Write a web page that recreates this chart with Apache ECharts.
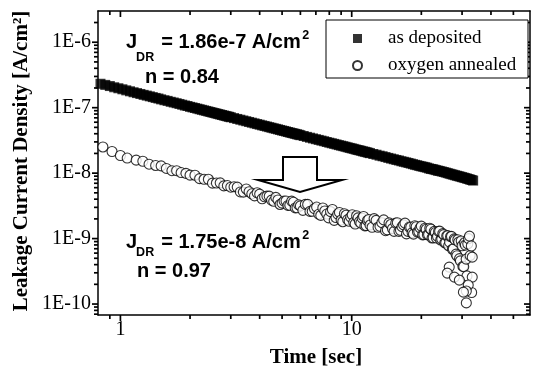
<!DOCTYPE html>
<html>
<head>
<meta charset="utf-8">
<script src="https://cdn.jsdelivr.net/npm/echarts@6/dist/echarts.min.js"></script>
<style>
  html, body { margin: 0; padding: 0; background: #fff; }
  #chart { width: 533px; height: 378px; }
</style>
</head>
<body>
<div id="chart"></div>
<script>
// Leakage current density vs. time, as-deposited and oxygen-annealed films

const timeDeposited = [
  0.82, 0.86, 0.90, 0.94, 0.98, 1.02, 1.06, 1.10, 1.14, 1.18, 1.22, 1.26, 1.30, 1.34, 1.38, 1.42, 1.46, 1.50,
  1.6, 1.7, 1.8, 1.9, 2.0, 2.1, 2.2, 2.3, 2.4, 2.5, 2.6, 2.7, 2.8, 2.9, 3.0,
  3.2, 3.4, 3.6, 3.8, 4.0, 4.2, 4.4, 4.6, 4.8, 5.0, 5.2, 5.4, 5.6, 5.8, 6.0,
  6.4, 6.8, 7.2, 7.6, 8.0, 8.4, 8.8, 9.2, 9.6, 10.0, 10.4, 10.8, 11.2, 11.6, 12.0,
  12.8, 13.6, 14.4, 15.2, 16.0, 16.8, 17.6, 18.4, 19.2, 20.0, 20.8, 21.6, 22.4, 23.2, 24.0,
  25, 26, 27, 28, 29, 30, 31, 32, 33, 33.5,
  1.55, 1.65, 1.75, 1.85, 1.95, 2.05, 2.15, 2.25, 2.35, 2.45, 2.55, 2.65, 2.75, 2.85, 2.95,
  3.1, 3.3, 3.5, 3.7, 3.9, 4.1, 4.3, 4.5, 4.7, 4.9, 5.1, 5.3, 5.5, 5.7, 5.9,
  6.2, 6.6, 7.0, 7.4, 7.8, 8.2, 8.6, 9.0, 9.4, 9.8, 10.2, 10.6, 11.0, 11.4, 11.8,
  12.4, 13.2, 14.0, 14.8, 15.6, 16.4, 17.2, 18.0, 18.8, 19.6, 20.4, 21.2, 22.0, 22.8, 23.6,
  24.5, 25.5, 26.5, 27.5, 28.5, 29.5, 30.5, 31.5, 32.5
];
const jDeposited = [
  2.32e-7, 2.23e-7, 2.14e-7, 2.05e-7, 1.98e-7, 1.91e-7, 1.84e-7, 1.78e-7, 1.72e-7, 1.67e-7, 1.62e-7, 1.57e-7, 1.53e-7, 1.49e-7, 1.45e-7, 1.41e-7, 1.38e-7, 1.34e-7,
  1.27e-7, 1.20e-7, 1.14e-7, 1.08e-7, 1.03e-7, 9.88e-8, 9.47e-8, 9.10e-8, 8.75e-8, 8.43e-8, 8.14e-8, 7.86e-8, 7.60e-8, 7.36e-8, 7.14e-8,
  6.73e-8, 6.37e-8, 6.05e-8, 5.76e-8, 5.50e-8, 5.26e-8, 5.04e-8, 4.84e-8, 4.66e-8, 4.48e-8, 4.33e-8, 4.18e-8, 4.05e-8, 3.92e-8, 3.80e-8,
  3.58e-8, 3.39e-8, 3.22e-8, 3.07e-8, 2.92e-8, 2.80e-8, 2.68e-8, 2.58e-8, 2.48e-8, 2.39e-8, 2.30e-8, 2.23e-8, 2.15e-8, 2.09e-8, 2.02e-8,
  1.91e-8, 1.81e-8, 1.71e-8, 1.63e-8, 1.56e-8, 1.49e-8, 1.43e-8, 1.37e-8, 1.32e-8, 1.27e-8, 1.23e-8, 1.18e-8, 1.15e-8, 1.11e-8, 1.08e-8,
  1.04e-8, 1.00e-8, 9.62e-9, 9.28e-9, 8.98e-9, 8.68e-9, 8.40e-9, 8.12e-9, 7.85e-9, 7.70e-9,
  1.30e-7, 1.23e-7, 1.17e-7, 1.11e-7, 1.06e-7, 1.01e-7, 9.67e-8, 9.28e-8, 8.92e-8, 8.59e-8, 8.28e-8, 7.99e-8, 7.73e-8, 7.48e-8, 7.25e-8,
  6.93e-8, 6.55e-8, 6.21e-8, 5.90e-8, 5.62e-8, 5.37e-8, 5.15e-8, 4.94e-8, 4.75e-8, 4.57e-8, 4.41e-8, 4.25e-8, 4.11e-8, 3.98e-8, 3.86e-8,
  3.69e-8, 3.48e-8, 3.30e-8, 3.14e-8, 2.99e-8, 2.86e-8, 2.74e-8, 2.63e-8, 2.53e-8, 2.43e-8, 2.35e-8, 2.26e-8, 2.19e-8, 2.12e-8, 2.05e-8,
  1.96e-8, 1.85e-8, 1.76e-8, 1.67e-8, 1.59e-8, 1.52e-8, 1.46e-8, 1.40e-8, 1.34e-8, 1.29e-8, 1.25e-8, 1.21e-8, 1.16e-8, 1.13e-8, 1.09e-8,
  1.06e-8, 1.02e-8, 9.80e-9, 9.45e-9, 9.12e-9, 8.83e-9, 8.54e-9, 8.26e-9, 7.98e-9
];

const timeAnnealed = [
  0.84, 0.92, 1.00, 1.07, 1.17, 1.25, 1.33, 1.42, 1.50, 1.58, 1.67, 1.75, 1.83, 1.92, 2.00,
  2.1, 2.2, 2.3, 2.4, 2.5, 2.6, 2.7, 2.8, 2.9, 3.0,
  3.1, 3.2, 3.3, 3.4, 3.5, 3.6, 3.7, 3.8, 3.9, 4.0, 4.1, 4.2, 4.3, 4.4, 4.5, 4.6, 4.7, 4.8, 4.9, 5.0,
  5.1, 5.2, 5.3, 5.4, 5.5, 5.6, 5.7, 5.8, 5.9, 6.0,
  6.15, 6.3, 6.45, 6.6, 6.75, 6.9, 7.05, 7.2, 7.35, 7.5, 7.65, 7.8, 7.95, 8.1, 8.25, 8.4, 8.55, 8.7, 8.85, 9.0,
  9.15, 9.3, 9.45, 9.6, 9.75, 9.9, 10.05, 10.2, 10.35, 10.5, 10.65, 10.8, 10.95, 11.1, 11.25, 11.4, 11.55, 11.7, 11.85, 12.0,
  12.25, 12.5, 12.75, 13.0, 13.25, 13.5, 13.75, 14.0, 14.25, 14.5, 14.75, 15.0, 15.25, 15.5, 15.75, 16.0,
  16.25, 16.5, 16.75, 17.0, 17.25, 17.5, 17.75, 18.0, 18.25, 18.5, 18.75, 19.0, 19.25, 19.5, 19.75, 20.0,
  20.25, 20.5, 20.75, 21.0, 21.25, 21.5, 21.75, 22.0, 22.25, 22.5, 22.75, 23.0, 23.25, 23.5, 23.75, 24.0,
  24.25, 24.5, 24.75, 25.0, 25.25, 25.5, 25.75, 26.0, 26.25, 26.5, 26.75, 27.0, 27.25, 27.5, 27.75, 28.0,
  28.25, 28.5, 28.75, 29.0, 29.25, 29.5, 29.75, 30.0, 30.25, 30.5, 30.75, 31.0, 31.25, 31.5, 31.75, 32.0,
  32.5, 33.0,
  32.3, 32.9, 33.2, 33.2, 31.9, 31.3, 31.3, 30.4, 26.4, 25.9, 27.8, 29.2
];
const jAnnealed = [
  2.51e-8, 2.14e-8, 1.86e-8, 1.70e-8, 1.58e-8, 1.52e-8, 1.37e-8, 1.31e-8, 1.29e-8, 1.18e-8, 1.09e-8, 1.09e-8, 1.02e-8, 9.93e-9, 9.33e-9,
  9.29e-9, 8.24e-9, 8.05e-9, 8.05e-9, 7.03e-9, 7.06e-9, 7.11e-9, 6.38e-9, 6.46e-9, 6.10e-9,
  6.18e-9, 6.12e-9, 5.16e-9, 5.13e-9, 5.73e-9, 5.20e-9, 4.83e-9, 4.49e-9, 5.01e-9, 4.78e-9, 4.06e-9, 4.35e-9, 4.45e-9, 4.45e-9, 3.87e-9, 3.71e-9, 4.26e-9, 3.89e-9, 3.32e-9, 3.48e-9,
  3.74e-9, 3.76e-9, 3.21e-9, 3.23e-9, 3.73e-9, 3.59e-9, 2.94e-9, 2.96e-9, 3.28e-9, 3.16e-9,
  2.70e-9, 3.33e-9, 3.33e-9, 2.60e-9, 2.61e-9, 2.87e-9, 3.03e-9, 2.36e-9, 2.26e-9, 2.94e-9, 2.64e-9, 2.37e-9, 2.07e-9, 2.58e-9, 2.78e-9, 1.90e-9, 2.10e-9, 2.37e-9, 2.51e-9, 1.92e-9,
  1.81e-9, 2.40e-9, 2.27e-9, 1.95e-9, 1.84e-9, 2.13e-9, 2.31e-9, 1.77e-9, 1.67e-9, 2.23e-9, 2.07e-9, 1.82e-9, 1.72e-9, 2.05e-9, 2.18e-9, 1.56e-9, 1.58e-9, 1.89e-9, 1.96e-9, 1.61e-9,
  1.49e-9, 2.02e-9, 1.90e-9, 1.49e-9, 1.54e-9, 1.75e-9, 1.93e-9, 1.32e-9, 1.36e-9, 1.74e-9, 1.64e-9, 1.42e-9, 1.29e-9, 1.72e-9, 1.75e-9, 1.29e-9,
  1.34e-9, 1.52e-9, 1.62e-9, 1.72e-9, 1.18e-9, 1.29e-9, 1.50e-9, 1.49e-9, 1.23e-9, 1.17e-9, 1.57e-9, 1.52e-9, 1.26e-9, 1.28e-9, 1.46e-9, 1.55e-9,
  1.14e-9, 1.15e-9, 1.44e-9, 1.39e-9, 1.14e-9, 1.15e-9, 1.44e-9, 1.39e-9, 1.02e-9, 1.03e-9, 1.29e-9, 1.24e-9, 1.02e-9, 1.08e-9, 1.29e-9, 1.30e-9,
  9.53e-10, 9.84e-10, 1.19e-9, 1.15e-9, 8.61e-10, 8.67e-10, 1.10e-9, 1.11e-9, 7.78e-10, 8.81e-10, 1.07e-9, 1.08e-9, 6.87e-10, 6.93e-10, 9.89e-10, 9.55e-10,
  5.79e-10, 5.47e-10, 9.59e-10, 8.85e-10, 4.94e-10, 4.57e-10, 9.20e-10, 7.76e-10, 3.76e-10, 3.72e-10, 8.63e-10, 7.94e-10, 4.86e-10, 2.69e-10, 8.32e-10, 1.00e-9,
  5.50e-10, 1.50e-10,
  1.09e-9, 7.70e-10, 5.20e-10, 2.58e-10, 1.95e-10, 1.58e-10, 1.04e-10, 1.52e-10, 3.67e-10, 2.97e-10, 2.58e-10, 2.32e-10
];

// axis extents and tick values
const timeRange = [0.8, 59];
const currentRange = [6.8e-11, 3.0e-6];
const timeMajorTicks = [1, 10];
const timeMinorTicks = [0.9, 2, 3, 4, 5, 6, 7, 8, 9, 20, 30, 40, 50];
const currentMajorTicks = [1e-10, 1e-9, 1e-8, 1e-7, 1e-6];
const currentMinorTicks = [
  7e-11, 8e-11, 9e-11,
  2e-10, 3e-10, 4e-10, 5e-10, 6e-10, 7e-10, 8e-10, 9e-10,
  2e-9, 3e-9, 4e-9, 5e-9, 6e-9, 7e-9, 8e-9, 9e-9,
  2e-8, 3e-8, 4e-8, 5e-8, 6e-8, 7e-8, 8e-8, 9e-8,
  2e-7, 3e-7, 4e-7, 5e-7, 6e-7, 7e-7, 8e-7, 9e-7,
  2e-6
];

const seriesNames = ['as deposited', 'oxygen annealed'];
// power-law fit results printed on the plot: J_DR and n
const fitDeposited = { jdr: '1.86e-7', n: '0.84' };
const fitAnnealed = { jdr: '1.75e-8', n: '0.97' };

const SERIF = "'Liberation Serif', 'Times New Roman', serif";
const SANS = "'Liberation Sans', Arial, sans-serif";
const INK = '#000';

function zip(xs, ys) { return xs.map((x, i) => [x, ys[i]]); }

function isDecade(v) {
  const e = Math.log10(v);
  return Math.abs(e - Math.round(e)) < 1e-6;
}

// "J_DR = ... A/cm^2" built from pieces so the sub- and superscripts sit where they should
const measureCtx = document.createElement('canvas').getContext('2d');
function textWidth(str, size) {
  measureCtx.font = 'bold ' + size + 'px ' + SANS;
  return measureCtx.measureText(str).width;
}
function fitLabel(x, yMain, ySub, ySup, jdr) {
  const main = 20, small = 12.5;
  const body = ' = ' + jdr + ' A/cm';
  const xSub = x + textWidth('J', main) - 1;
  const xBody = xSub + textWidth('DR', small) + 1.5;
  const xSup = xBody + textWidth(body, main) + 1.5;
  const t = (tx, ty, text, size) => ({
    type: 'text',
    style: { x: tx, y: ty, text, align: 'left', verticalAlign: 'middle', fill: INK,
      fontFamily: SANS, fontWeight: 'bold', fontSize: size }
  });
  return [
    t(x, yMain, 'J', main),
    t(xSub, ySub, 'DR', small),
    t(xBody, yMain, body, main),
    t(xSup, ySup, '2', small)
  ];
}
function nLabel(x, y, n) {
  return { type: 'text', style: { x, y, text: 'n = ' + n, align: 'left', verticalAlign: 'middle',
    fill: INK, fontFamily: SANS, fontWeight: 'bold', fontSize: 20 } };
}

const chart = echarts.init(document.getElementById('chart'));

function baseAxis(range, position, labels) {
  return {
    type: 'log', gridIndex: 0, position,
    min: range[0], max: range[1],
    axisLine: { show: true, lineStyle: { color: INK, width: 1.5 } },
    axisTick: { show: false },
    axisLabel: labels ? labels : { show: false },
    splitLine: { show: false },
    minorTick: { show: false }
  };
}

// plot: axes, frame and the two data sets
try {
  chart.setOption({
    animation: false,
    backgroundColor: '#fff',
    grid: { left: 98, top: 11, width: 433, height: 304 },
    xAxis: [
      baseAxis(timeRange, 'bottom', {
        show: true, margin: 5, color: INK, fontFamily: SERIF, fontSize: 20,
        formatter: v => isDecade(v) && timeMajorTicks.indexOf(Math.round(v)) >= 0 ? String(Math.round(v)) : ''
      }),
      baseAxis(timeRange, 'top', null)
    ],
    yAxis: [
      baseAxis(currentRange, 'left', {
        show: true, margin: 7, color: INK, fontFamily: SERIF, fontSize: 20,
        formatter: v => isDecade(v) ? '1E' + Math.round(Math.log10(v)) : ''
      }),
      baseAxis(currentRange, 'right', null)
    ],
    series: [
      {
        name: seriesNames[0], type: 'scatter', xAxisIndex: 0, yAxisIndex: 0,
        symbol: 'rect', symbolSize: 10, z: 2,
        itemStyle: { color: INK },
        data: zip(timeDeposited, jDeposited)
      },
      {
        name: seriesNames[1], type: 'scatter', xAxisIndex: 0, yAxisIndex: 0,
        symbol: 'circle', symbolSize: 10, z: 3,
        itemStyle: { color: '#fff', borderColor: INK, borderWidth: 1.1 },
        data: zip(timeAnnealed, jAnnealed)
      }
    ]
  });
} catch (e) { /* keep going so the frame and notes still draw */ }

// frame ticks through the axis scales: bottom/left outwards, top/right inwards
const ticks = [];
function tick(x1, y1, x2, y2) {
  ticks.push({ type: 'line', shape: { x1, y1, x2, y2 }, style: { stroke: INK, lineWidth: 1.7 } });
}
const xLeft = chart.convertToPixel({ xAxisIndex: 0 }, timeRange[0]);
const xRight = chart.convertToPixel({ xAxisIndex: 0 }, timeRange[1]);
const yBottom = chart.convertToPixel({ yAxisIndex: 0 }, currentRange[0]);
const yTop = chart.convertToPixel({ yAxisIndex: 0 }, currentRange[1]);
[[timeMajorTicks, 6], [timeMinorTicks, 4]].forEach(function (pair) {
  pair[0].forEach(function (v) {
    const x = chart.convertToPixel({ xAxisIndex: 0 }, v);
    tick(x, yBottom, x, yBottom + pair[1]);
    tick(x, yTop, x, yTop + pair[1]);
  });
});
[[currentMajorTicks, 6], [currentMinorTicks, 4]].forEach(function (pair) {
  pair[0].forEach(function (v) {
    const y = chart.convertToPixel({ yAxisIndex: 0 }, v);
    tick(xLeft, y, xLeft - pair[1], y);
    tick(xRight, y, xRight - pair[1], y);
  });
});

const notes = [
  // legend frame
  { type: 'rect', shape: { x: 326, y: 20, width: 202, height: 58 },
    style: { fill: '#fff', stroke: INK, lineWidth: 1 } },
  // hollow down arrow
  { type: 'polygon',
    shape: { points: [[283, 157], [317, 157], [317, 180], [342, 180], [300, 192], [258, 180], [283, 180]] },
    style: { fill: '#fff', stroke: INK, lineWidth: 2 } },
  ...fitLabel(126, 42.5, 58, 35.5, fitDeposited.jdr),
  nLabel(145, 77.5, fitDeposited.n),
  ...fitLabel(126, 242.5, 253, 235.5, fitAnnealed.jdr),
  nLabel(137, 271, fitAnnealed.n),
  // axis titles
  { type: 'text', rotation: Math.PI / 2, x: 22, y: 161, style: {
      x: 0, y: 0, align: 'center', verticalAlign: 'middle', fill: INK,
      text: 'Leakage Current Density [A/cm²]', fontFamily: SERIF, fontWeight: 'bold', fontSize: 21 } },
  { type: 'text', style: {
      x: 316, y: 358, align: 'center', verticalAlign: 'middle', fill: INK,
      text: 'Time [sec]', fontFamily: SERIF, fontWeight: 'bold', fontSize: 21 } }
];

chart.setOption({ graphic: ticks.concat(notes) });

chart.setOption({
  legend: {
    orient: 'vertical', left: 352, top: 29, padding: 0, z: 10,
    itemWidth: 9, itemHeight: 9, itemGap: 8,
    textStyle: { color: INK, fontFamily: SERIF, fontSize: 19, padding: [0, 0, 0, 21] },
    data: [
      { name: seriesNames[0], icon: 'rect' },
      { name: seriesNames[1], icon: 'circle' }
    ]
  }
});
</script>
</body>
</html>
